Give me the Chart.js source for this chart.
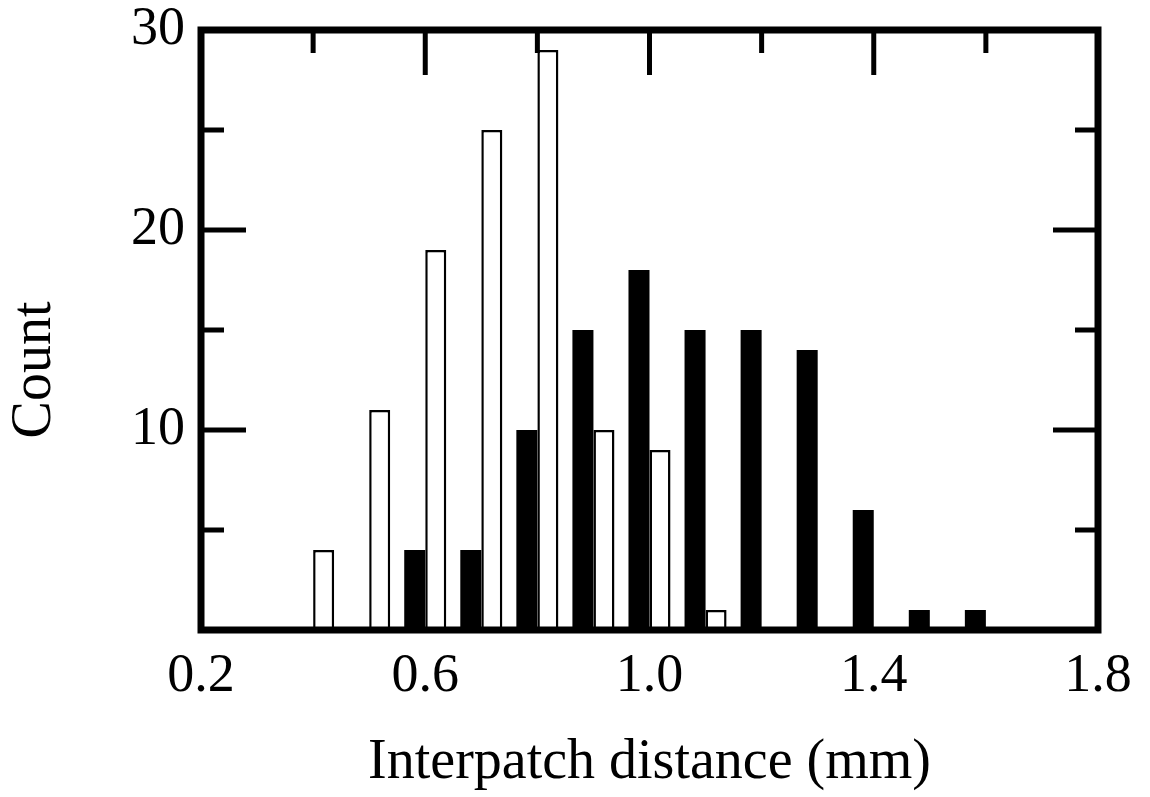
<!DOCTYPE html>
<html>
<head>
<meta charset="utf-8">
<script src="https://cdn.jsdelivr.net/npm/chart.js@4.4.0/dist/chart.umd.min.js"></script>
<style>
  html, body { margin: 0; padding: 0; background: #fff; }
  #wrap { width: 1150px; height: 797px; }
</style>
</head>
<body>
<div id="wrap"><canvas id="histChart" width="1150" height="797"></canvas></div>
<script>
const distanceLabels = ["0.2", "0.3", "0.4", "0.5", "0.6", "0.7", "0.8", "0.9", "1.0",
                        "1.1", "1.2", "1.3", "1.4", "1.5", "1.6", "1.7", "1.8"];
const solidCounts = [0, 0, 0, 0, 4, 4, 10, 15, 18, 15, 15, 14, 6, 1, 1, 0, 0];
const openCounts  = [0, 0, 4, 11, 19, 25, 29, 10, 9, 1, 0, 0, 0, 0, 0, 0, 0];

const xLabelTicks = ["0.2", "0.6", "1.0", "1.4", "1.8"];
const xLongTicks  = ["0.6", "1.0", "1.4"];
const xShortTicks = ["0.4", "0.8", "1.2", "1.6"];
const yLongTicks  = [10, 20];
const yShortTicks = [5, 15, 25];
const yTitle = "Count";

const serif = "'Liberation Serif', 'DejaVu Serif', serif";

// frame + inward ticks, like the original plot
const frameTicks = {
    id: "frameTicks",
    afterDraw(chart) {
        const ctx = chart.ctx;
        const area = chart.chartArea;
        const x = chart.scales.x;
        const y = chart.scales.y;
        ctx.save();
        ctx.strokeStyle = "#000";
        ctx.lineCap = "butt";

        ctx.lineWidth = 5;
        const topTick = (lbl, len) => {
            const px = x.getPixelForValue(distanceLabels.indexOf(lbl));
            ctx.beginPath();
            ctx.moveTo(px, area.top);
            ctx.lineTo(px, area.top + len);
            ctx.stroke();
        };
        xLongTicks.forEach(l => topTick(l, 45));
        xShortTicks.forEach(l => topTick(l, 23));

        const sideTicks = (v, len) => {
            const py = y.getPixelForValue(v);
            ctx.beginPath();
            ctx.moveTo(area.left, py);
            ctx.lineTo(area.left + len, py);
            ctx.moveTo(area.right, py);
            ctx.lineTo(area.right - len, py);
            ctx.stroke();
        };
        yLongTicks.forEach(v => sideTicks(v, 45));
        yShortTicks.forEach(v => sideTicks(v, 23));

        ctx.lineWidth = 7;
        ctx.strokeRect(area.left, area.top, area.right - area.left, area.bottom - area.top);

        // y title sits a bit below the middle in the original
        ctx.fillStyle = "#000";
        ctx.font = "56px " + serif;
        ctx.textAlign = "center";
        ctx.textBaseline = "middle";
        ctx.translate(35, (area.top + area.bottom) / 2 + 40);
        ctx.rotate(-Math.PI / 2);
        ctx.fillText(yTitle, 0, 0);
        ctx.restore();
    }
};

new Chart(document.getElementById("histChart"), {
    type: "bar",
    data: {
        labels: distanceLabels,
        datasets: [{
            label: "solid",
            data: solidCounts,
            backgroundColor: "#000",
            borderWidth: 0
        }, {
            label: "open",
            data: openCounts,
            backgroundColor: "#fff",
            borderColor: "#000",
            borderWidth: 2.5
        }]
    },
    options: {
        responsive: false,
        animation: false,
        layout: { padding: { top: 30, right: 52, left: 0, bottom: 0 } },
        datasets: { bar: { categoryPercentage: 0.75, barPercentage: 1.0 } },
        plugins: { legend: { display: false }, tooltip: { enabled: false } },
        scales: {
            x: {
                offset: false,
                grid: { display: false, drawTicks: false },
                border: { display: false },
                afterFit: s => { s.height = 167; s.paddingLeft = 0; s.paddingRight = 0; },
                ticks: {
                    autoSkip: false,
                    maxRotation: 0,
                    padding: 14,
                    color: "#000",
                    font: { family: serif, size: 54 },
                    callback: function (val) {
                        const lbl = distanceLabels[val];
                        return xLabelTicks.includes(lbl) ? lbl : "";
                    }
                },
                title: {
                    display: true,
                    text: "Interpatch distance (mm)",
                    color: "#000",
                    font: { family: serif, size: 56 },
                    padding: { top: 0, bottom: 0 }
                }
            },
            y: {
                min: 0,
                max: 30,
                grid: { display: false, drawTicks: false },
                border: { display: false },
                afterFit: s => { s.width = 201; s.paddingTop = 0; s.paddingBottom = 0; },
                ticks: {
                    stepSize: 10,
                    padding: 16,
                    color: "#000",
                    font: { family: serif, size: 54 },
                    callback: v => (v === 0 ? "" : v)
                },
                title: { display: false }
            }
        }
    },
    plugins: [frameTicks]
});
</script>
</body>
</html>
